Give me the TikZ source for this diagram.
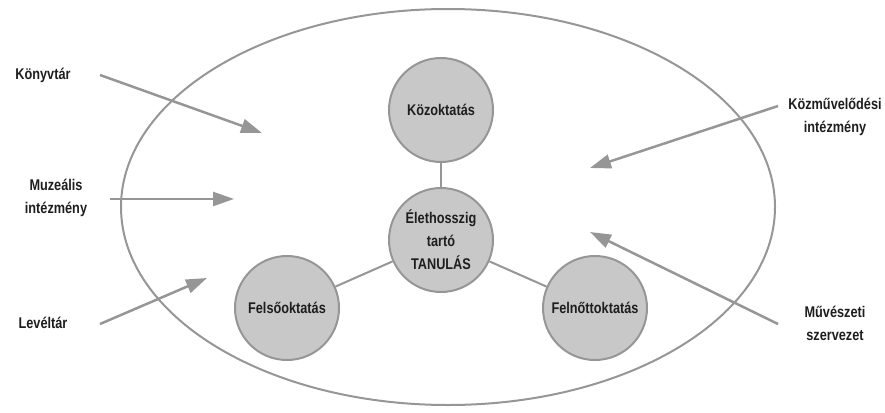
\documentclass[tikz,border=0pt]{standalone}
\usepackage{fontspec}
\setmainfont{Liberation Sans}[FakeStretch=0.82]
\usepackage{xcolor}
\usepackage{tikz}
\usetikzlibrary{arrows.meta}

\definecolor{linegray}{RGB}{150,150,150}
\definecolor{ballgray}{RGB}{200,200,200}
\definecolor{textdark}{RGB}{30,30,30}

\tikzset{
  ball/.style={circle, draw=linegray, line width=2pt, fill=ballgray, minimum size=104pt, inner sep=0pt, align=center, text=textdark, font=\fontsize{15.5}{23}\selectfont\bfseries},
  label/.style={align=center, inner sep=0pt, text=textdark, font=\fontsize{15.5}{23}\selectfont\bfseries},
  feed/.style={draw=linegray, line width=2.5pt, -{Triangle[length=21pt,width=14pt]}},
  spoke/.style={draw=linegray, line width=2pt}
}

\begin{document}
\begin{tikzpicture}[x=1pt, y=-1pt]
      \useasboundingbox (0,0) rectangle (885,412);

      \draw [linegray, line width=2pt] (448,207) ellipse [x radius=327, y radius=198];

      \node [ball] (kozokt) at (441,110) {Közoktatás};
      \node [ball] (eleth) at (441,240) {Élethosszig\\tartó\\TANULÁS};
      \node [ball] (felso) at (287,308) {Felsőoktatás};
      \node [ball] (felnott) at (595,308) {Felnőttoktatás};

      \draw [spoke] (eleth) -- (kozokt);
      \draw [spoke] (eleth) -- (felso);
      \draw [spoke] (eleth) -- (felnott);

      \node [label] (konyvtar) at (43,75) {Könyvtár};
      \node [label] (muzeum) at (56,198) {Muzeális\\intézmény};
      \node [label] (leveltar) at (43,323) {Levéltár};
      \node [label] (kozmuv) at (835,117) {Közművelődési\\intézmény};
      \node [label] (muvesz) at (835,323) {Művészeti\\szervezet};

      % arrow tails and tips
      \coordinate (konyvtar-tail) at (100,75);
      \coordinate (muzeum-tail) at (110,199);
      \coordinate (leveltar-tail) at (100,324);
      \coordinate (kozmuv-tail) at (778,106);
      \coordinate (muvesz-tail) at (778,324);
      \coordinate (konyvtar-tip) at (262,133);
      \coordinate (muzeum-tip) at (234,199);
      \coordinate (leveltar-tip) at (207,278);
      \coordinate (kozmuv-tip) at (590,168);
      \coordinate (muvesz-tip) at (590,232);

      \draw [feed] (konyvtar-tail) -- (konyvtar-tip);
      \draw [feed] (muzeum-tail) -- (muzeum-tip);
      \draw [feed] (leveltar-tail) -- (leveltar-tip);
      \draw [feed] (kozmuv-tail) -- (kozmuv-tip);
      \draw [feed] (muvesz-tail) -- (muvesz-tip);
    \end{tikzpicture}
\end{document}
